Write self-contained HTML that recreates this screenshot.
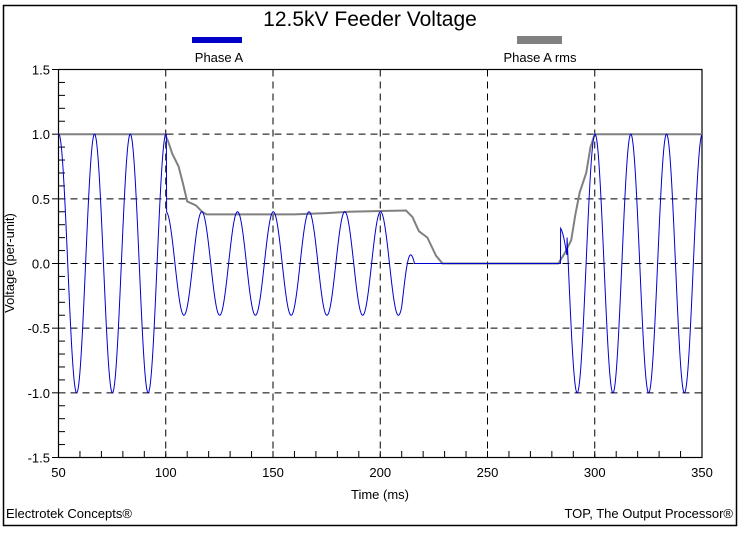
<!DOCTYPE html>
<html><head><meta charset="utf-8"><style>
body{margin:0;background:#fff;}
svg text{font-family:"Liberation Sans",Arial,sans-serif;}
</style></head><body>
<svg id="s" width="741" height="531" xmlns="http://www.w3.org/2000/svg">
<rect x="3.5" y="5.5" width="733" height="520" fill="none" stroke="#000" stroke-width="1.5"/>
<text x="370" y="26" font-size="21" text-anchor="middle">12.5kV Feeder Voltage</text>
<rect x="192" y="37" width="50" height="6" fill="#0000c8"/>
<text x="219" y="62" font-size="13" text-anchor="middle">Phase A</text>
<rect x="517" y="36" width="45" height="8" fill="#808080"/>
<text x="540" y="62" font-size="13" text-anchor="middle">Phase A rms</text>
<g id="grid" stroke="#000" stroke-width="1" stroke-dasharray="7,5" fill="none"></g>
<rect x="58.5" y="69.5" width="643.5" height="388" fill="none" stroke="#000" stroke-width="1.2"/>
<g id="ticks" stroke="#000" stroke-width="1"></g>
<g id="lbl" font-size="13"></g>
<text x="14" y="263" font-size="13" text-anchor="middle" transform="rotate(-90 14 263)">Voltage (per-unit)</text>
<text x="380" y="499" font-size="13" text-anchor="middle">Time (ms)</text>
<text x="6" y="518" font-size="13">Electrotek Concepts®</text>
<text x="733" y="518" font-size="13" text-anchor="end">TOP, The Output Processor®</text>
<path id="rms" fill="none" stroke="#808080" stroke-width="2"/>
<path id="wave" fill="none" stroke="#0000d0" stroke-width="1"/>
</svg>
<script>
const X=t=>58.5+(t-50)*643.5/300, Y=v=>263.5-v*129.33;
const ns="http://www.w3.org/2000/svg";
function el(p,tag,a,txt){const e=document.createElementNS(ns,tag);for(const k in a)e.setAttribute(k,a[k]);if(txt)e.textContent=txt;document.getElementById(p).appendChild(e);}
for(let t=100;t<350;t+=50)el("grid","line",{x1:X(t),x2:X(t),y1:69.5,y2:457.5});
for(let v=-1;v<=1;v+=0.5)el("grid","line",{x1:58.5,x2:702,y1:Y(v),y2:Y(v)});
for(let t=50;t<=350;t+=10){el("ticks","line",{x1:X(t),x2:X(t),y1:457.5,y2:451});}
for(let i=-15;i<=15;i++){const v=i/10;el("ticks","line",{x1:58.5,x2:(i%5==0?52:65),y1:Y(v),y2:Y(v)});}
for(let t=50;t<=350;t+=50)el("lbl","text",{x:X(t),y:477,"text-anchor":"middle"},String(t));
for(let i=-3;i<=3;i++){const v=i/2;el("lbl","text",{x:50,y:Y(v)+5,"text-anchor":"end"},v.toFixed(1));}
function A(t){
 if(t<100.3)return 1;
 if(t<210)return 0.4;
 if(t<216)return 0.4*(216-t)/6;
 if(t<284)return 0;
 if(t<287)return 0.28;
 return 1;}
let d="";
for(let t=50;t<=350;t+=0.1){const v=A(t)*Math.cos(2*Math.PI*(t-66.8)/16.667);d+=(d?"L":"M")+X(t).toFixed(2)+","+Y(v).toFixed(2);}
document.getElementById("wave").setAttribute("d",d);
const r=[[50,1],[99.5,1],[101,0.95],[103,0.85],[106,0.75],[108,0.62],[110,0.48],[114,0.45],[117,0.4],[119,0.38],[160,0.38],[175,0.39],[185,0.4],[212,0.41],[215,0.36],[218,0.25],[222,0.2],[226,0.06],[229,0],[283,0],[286,0.08],[289,0.18],[291,0.38],[293,0.55],[296,0.7],[298,0.9],[300,1],[350,1]];
document.getElementById("rms").setAttribute("d",r.map((p,i)=>(i?"L":"M")+X(p[0]).toFixed(1)+","+Y(p[1]).toFixed(1)).join(""));
</script>
</body></html>
